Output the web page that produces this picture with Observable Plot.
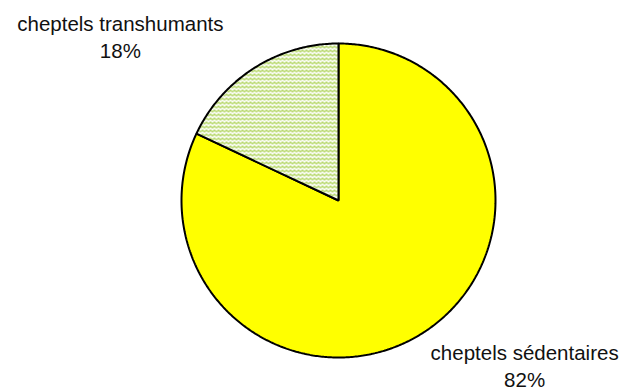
<!DOCTYPE html>
<html>
<head>
<meta charset="utf-8">
<script src="https://cdn.jsdelivr.net/npm/d3@7"></script>
<script src="https://cdn.jsdelivr.net/npm/@observablehq/plot@0.6"></script>
<style>
  html, body { margin: 0; padding: 0; background: #fff; }
  svg { display: block; }
</style>
</head>
<body>
<div id="chart"></div>
<script>
// Répartition des cheptels
const categories = ["cheptels sédentaires", "cheptels transhumants"];
const shares = [82, 18];
const percentLabels = ["82%", "18%"];

// Slice angles, clockwise from 12 o'clock, in the order given
const arcs = d3.pie().sort(null).value(d => d)(shares);

// Each slice as a closed polygon in a unit-circle coordinate system
const polygons = [];
arcs.forEach((a, i) => {
  polygons.push({name: categories[i], x: 0, y: 0});
  const steps = Math.max(2, Math.ceil((a.endAngle - a.startAngle) / 0.01));
  for (let k = 0; k <= steps; k++) {
    const t = a.startAngle + (a.endAngle - a.startAngle) * k / steps;
    polygons.push({name: categories[i], x: Math.sin(t), y: Math.cos(t)});
  }
});

// Label anchor: rim point at the slice's mid-angle, shifted outwards
const labelShift = [[102, 32], [-134, -32]];
const labels = arcs.map((a, i) => {
  const m = (a.startAngle + a.endAngle) / 2;
  return {
    text: categories[i] + "\n" + percentLabels[i],
    x: Math.sin(m), y: Math.cos(m),
    dx: labelShift[i][0], dy: labelShift[i][1]
  };
});

const chart = Plot.plot({
  width: 627,
  height: 390,
  margin: 0,
  style: {background: "#fff"},
  x: {domain: [-1, 1], range: [181, 495], axis: null},
  y: {domain: [-1, 1], range: [357, 43], axis: null},
  color: {domain: categories, range: ["#ffff00", "url(#zigzag)"]},
  marks: [
    Plot.line(polygons, {
      x: "x", y: "y", z: "name", fill: "name",
      stroke: "#000", strokeWidth: 2, strokeLinejoin: "miter",
      curve: "linear-closed"
    }),
    ...labels.map(l => Plot.text([l], {
      x: "x", y: "y", text: "text",
      dx: l.dx, dy: l.dy,
      fontSize: 20.5, lineHeight: 1.3,
      fontFamily: "Liberation Sans, Arial, sans-serif",
      fill: "#111", textAnchor: "middle"
    }))
  ]
});

// Zigzag fill used by the smaller slice
const ns = "http://www.w3.org/2000/svg";
const defs = document.createElementNS(ns, "defs");
defs.innerHTML =
  '<pattern id="zigzag" patternUnits="userSpaceOnUse" width="8" height="4">' +
  '<rect width="8" height="4" fill="#ffffff"/>' +
  '<path d="M0,3.5 L2,1.5 L4,3.5 L6,1.5 L8,3.5" fill="none" stroke="#a8d04c" stroke-width="1.1"/>' +
  '</pattern>';
chart.insertBefore(defs, chart.firstChild);

document.getElementById("chart").appendChild(chart);
</script>
</body>
</html>
